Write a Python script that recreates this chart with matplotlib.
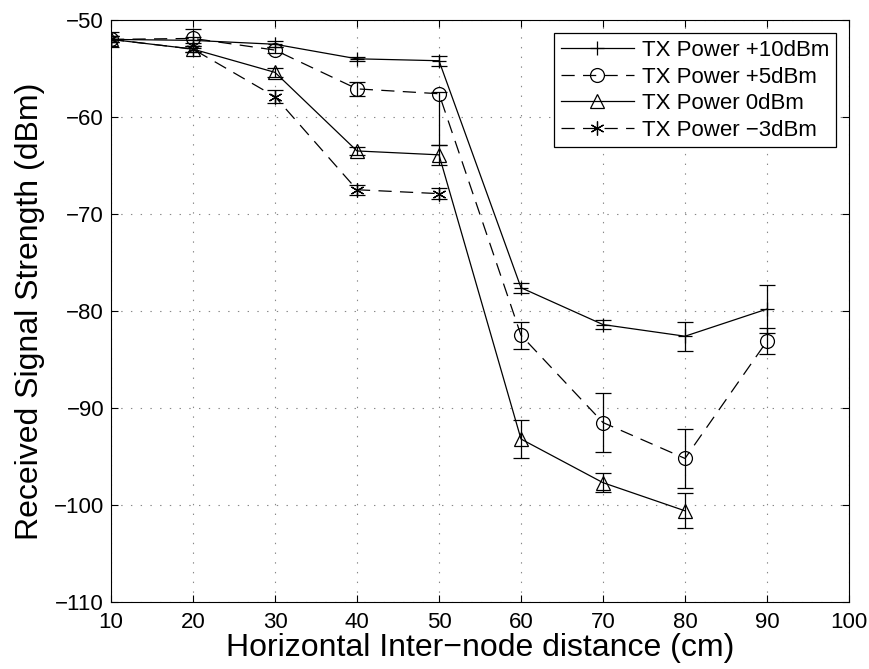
import numpy as np
import matplotlib
matplotlib.use("Agg")
import matplotlib.pyplot as plt
from matplotlib.lines import Line2D

plt.rcParams['font.family'] = ['Liberation Sans', 'DejaVu Sans']
plt.rcParams['lines.scale_dashes'] = False

distance = [10, 20, 30, 40, 50, 60, 70, 80, 90]

p10 = [-52.0, -52.1, -52.5, -54.0, -54.2, -77.6, -81.4, -82.6, -79.8]
p10_err = [0.3, 0.3, 0.3, 0.2, 0.5, 0.5, 0.45, 1.5, 2.45]

p5 = [-52.0, -51.9, -53.1, -57.1, -57.6, -82.5, -91.5, -95.2, -83.1]
p5_err_low = [0.3, 1.0, 0.3, 0.7, 5.3, 1.4, 3.0, 3.0, 1.35]
p5_err_up = [0.3, 1.0, 0.3, 0.7, 0.2, 1.4, 3.0, 3.0, 1.35]

p0 = [-52.0, -53.0, -55.4, -63.5, -63.9, -93.2, -97.7, -100.6]
p0_err = [0.8, 0.3, 0.5, 0.4, 1.0, 2.0, 1.0, 1.8]

m3 = [-52.0, -53.0, -57.9, -67.5, -67.9]
m3_err = [0.3, 0.3, 0.7, 0.5, 0.6]

labels = ['TX Power +10dBm', 'TX Power +5dBm', 'TX Power 0dBm', 'TX Power \u22123dBm']

fig = plt.figure(figsize=(8.7, 6.69), dpi=100)
ax = fig.add_axes([111/870, 1-602/669, (849-111)/870, (602-20)/669])

dash = (0, (9.5, 6))
star = (6, 2, 0)
common = dict(color='black', lw=0.9, capsize=6, elinewidth=0.9, capthick=0.9,
              markersize=10, markeredgewidth=0.9, markerfacecolor='none', markeredgecolor='black')

ax.errorbar(distance, p10, yerr=p10_err, marker='+', linestyle='-', **common)
ax.errorbar(distance, p5, yerr=[p5_err_low, p5_err_up], marker='o', linestyle=dash, **common)
ax.errorbar(distance[:len(p0)], p0, yerr=p0_err, marker='^', linestyle='-', **common)
ax.errorbar(distance[:len(m3)], m3, yerr=m3_err, marker=star, linestyle=dash, **common)

ax.set_xlim(10, 100)
ax.set_ylim(-110, -50)
ax.set_xticks(np.arange(10, 101, 10))
ax.set_yticks(np.arange(-110, -49, 10))
ax.set_yticklabels([f'\u2212{abs(v)}' for v in range(-110, -49, 10)])
ax.tick_params(direction='in', top=True, right=True, length=5, labelsize=16, width=0.8)
ax.tick_params(axis='x', pad=7)
ax.tick_params(axis='y', pad=5)
ax.grid(True, linestyle=(0, (1, 6)), color='#888888', lw=0.8)
for s in ax.spines.values():
    s.set_linewidth(0.8)

ax.set_xlabel('Horizontal Inter\u2212node distance (cm)', fontsize=23, labelpad=0)
ax.set_ylabel('Received Signal Strength (dBm)', fontsize=23, labelpad=6)

handles = [
    Line2D([], [], color='black', lw=0.9, marker='+', markersize=10, markeredgewidth=0.9, linestyle='-'),
    Line2D([], [], color='black', lw=0.9, marker='o', markersize=10, markeredgewidth=0.9,
           markerfacecolor='none', linestyle=dash),
    Line2D([], [], color='black', lw=0.9, marker='^', markersize=10, markeredgewidth=0.9,
           markerfacecolor='none', linestyle='-'),
    Line2D([], [], color='black', lw=0.9, marker=star, markersize=10, markeredgewidth=0.9, linestyle=dash),
]
leg = ax.legend(handles, labels, loc='upper right', fontsize=16, frameon=True, fancybox=False,
                edgecolor='black', framealpha=1, handlelength=3.3, borderpad=0.3,
                labelspacing=0.25, handletextpad=0.35, borderaxespad=0.6)
leg.get_frame().set_linewidth(0.9)

fig.savefig('out.png', dpi=100)
